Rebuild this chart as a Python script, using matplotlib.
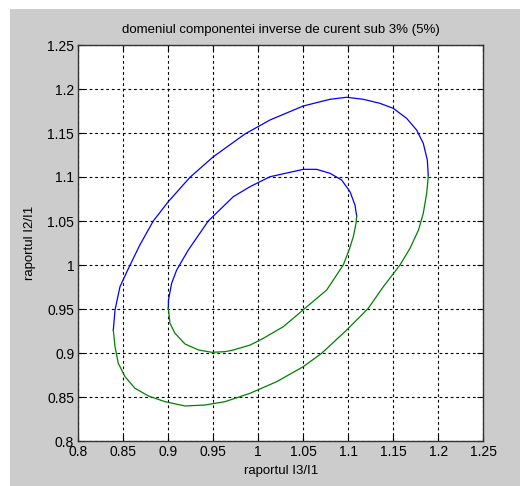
import matplotlib
matplotlib.use("Agg")
import matplotlib.pyplot as plt
from matplotlib.patches import Rectangle

# outer curve (5%): upper part (blue) and lower part (green)
outer_top_x = [0.8389, 0.8408, 0.8463, 0.8549, 0.8680, 0.8833, 0.9000, 0.9241, 0.9500, 0.9852,
               1.0130, 1.0500, 1.0797, 1.0982, 1.1167, 1.1352, 1.1500, 1.1648, 1.1759, 1.1833,
               1.1878, 1.1889]
outer_top_y = [0.9261, 0.9489, 0.9753, 0.9943, 1.0220, 1.0500, 1.0720, 1.0997, 1.1230, 1.1489,
               1.1648, 1.1807, 1.1883, 1.1906, 1.1883, 1.1837, 1.1780, 1.1667, 1.1534, 1.1383,
               1.1193, 1.1011]
outer_bot_x = [1.1889, 1.1871, 1.1833, 1.1780, 1.1686, 1.1574, 1.1389, 1.1222, 1.0982, 1.0704,
               1.0500, 1.0204, 0.9908, 0.9630, 0.9408, 0.9186, 0.8963, 0.8781, 0.8630, 0.8519,
               0.8444, 0.8408, 0.8389]
outer_bot_y = [1.1011, 1.0815, 1.0587, 1.0398, 1.0190, 1.0000, 0.9753, 0.9508, 0.9261, 0.8997,
               0.8845, 0.8674, 0.8542, 0.8447, 0.8409, 0.8398, 0.8447, 0.8511, 0.8599, 0.8731,
               0.8883, 0.9072, 0.9261]

# inner curve (3%)
inner_top_x = [0.9000, 0.9002, 0.9037, 0.9093, 0.9222, 0.9444, 0.9722, 0.9908, 1.0130, 1.0500,
               1.0648, 1.0797, 1.0926, 1.1019, 1.1074, 1.1093]
inner_top_y = [0.9510, 0.9602, 0.9792, 0.9943, 1.0170, 1.0500, 1.0776, 1.0890, 1.1003, 1.1087,
               1.1087, 1.1042, 1.0966, 1.0833, 1.0682, 1.0557]
inner_bot_x = [1.1093, 1.1086, 1.1056, 1.1011, 1.0944, 1.0760, 1.0519, 1.0278, 1.0056, 0.9908,
               0.9722, 0.9630, 0.9482, 0.9337, 0.9186, 0.9074, 0.9019, 0.9000]
inner_bot_y = [1.0557, 1.0474, 1.0322, 1.0178, 1.0000, 0.9716, 0.9508, 0.9299, 0.9167, 0.9090,
               0.9034, 0.9015, 0.9008, 0.9034, 0.9102, 0.9224, 0.9337, 0.9510]

x_ticks = [0.8, 0.85, 0.9, 0.95, 1.0, 1.05, 1.1, 1.15, 1.2, 1.25]
x_labels = ["0.8", "0.85", "0.9", "0.95", "1", "1.05", "1.1", "1.15", "1.2", "1.25"]
y_ticks = [0.8, 0.85, 0.9, 0.95, 1.0, 1.05, 1.1, 1.15, 1.2, 1.25]
y_labels = ["0.8", "0.85", "0.9", "0.95", "1", "1.05", "1.1", "1.15", "1.2", "1.25"]

plt.rcParams["font.family"] = ["Liberation Sans Narrow", "Liberation Sans", "DejaVu Sans"]
plt.rcParams["font.size"] = 10

fig = plt.figure(figsize=(5.2, 4.86), dpi=100, facecolor="white")
# grey window area
fig.patches.append(Rectangle((10 / 520, 0), 1 - 10 / 520, 1 - 9 / 486, transform=fig.transFigure,
                             facecolor="#cccccc", edgecolor="none", zorder=-10))

ax = fig.add_axes([78.3 / 520, 45 / 486, 405 / 520, 396 / 486])
ax.set_facecolor("white")

blue = "#0000ff"
green = "#008000"
ax.plot(outer_top_x, outer_top_y, color=blue, lw=0.9)
ax.plot(outer_bot_x, outer_bot_y, color=green, lw=0.9)
ax.plot(inner_top_x, inner_top_y, color=blue, lw=0.9)
ax.plot(inner_bot_x, inner_bot_y, color=green, lw=0.9)

ax.set_xlim(0.8, 1.25)
ax.set_ylim(0.8, 1.25)
ax.set_xticks(x_ticks)
ax.set_xticklabels(x_labels)
ax.set_yticks(y_ticks)
ax.set_yticklabels(y_labels)
ax.tick_params(direction="in", length=4, width=0.8, top=True, right=True, labelsize=10, pad=3)
ax.grid(True, color="black", linestyle=(0, (2.5, 2.5)), linewidth=0.8)
ax.set_axisbelow(True)
for s in ax.spines.values():
    s.set_linewidth(1.0)
    s.set_color("#333333")

ax.set_title("domeniul componentei inverse de curent sub 3% (5%)", fontsize=9.5, pad=9)
ax.set_xlabel("raportul I3/I1", fontsize=9.5, labelpad=4)
ax.set_ylabel("raportul I2/I1", fontsize=9.5, labelpad=8)

fig.savefig("out.png", dpi=100, facecolor=fig.get_facecolor())
